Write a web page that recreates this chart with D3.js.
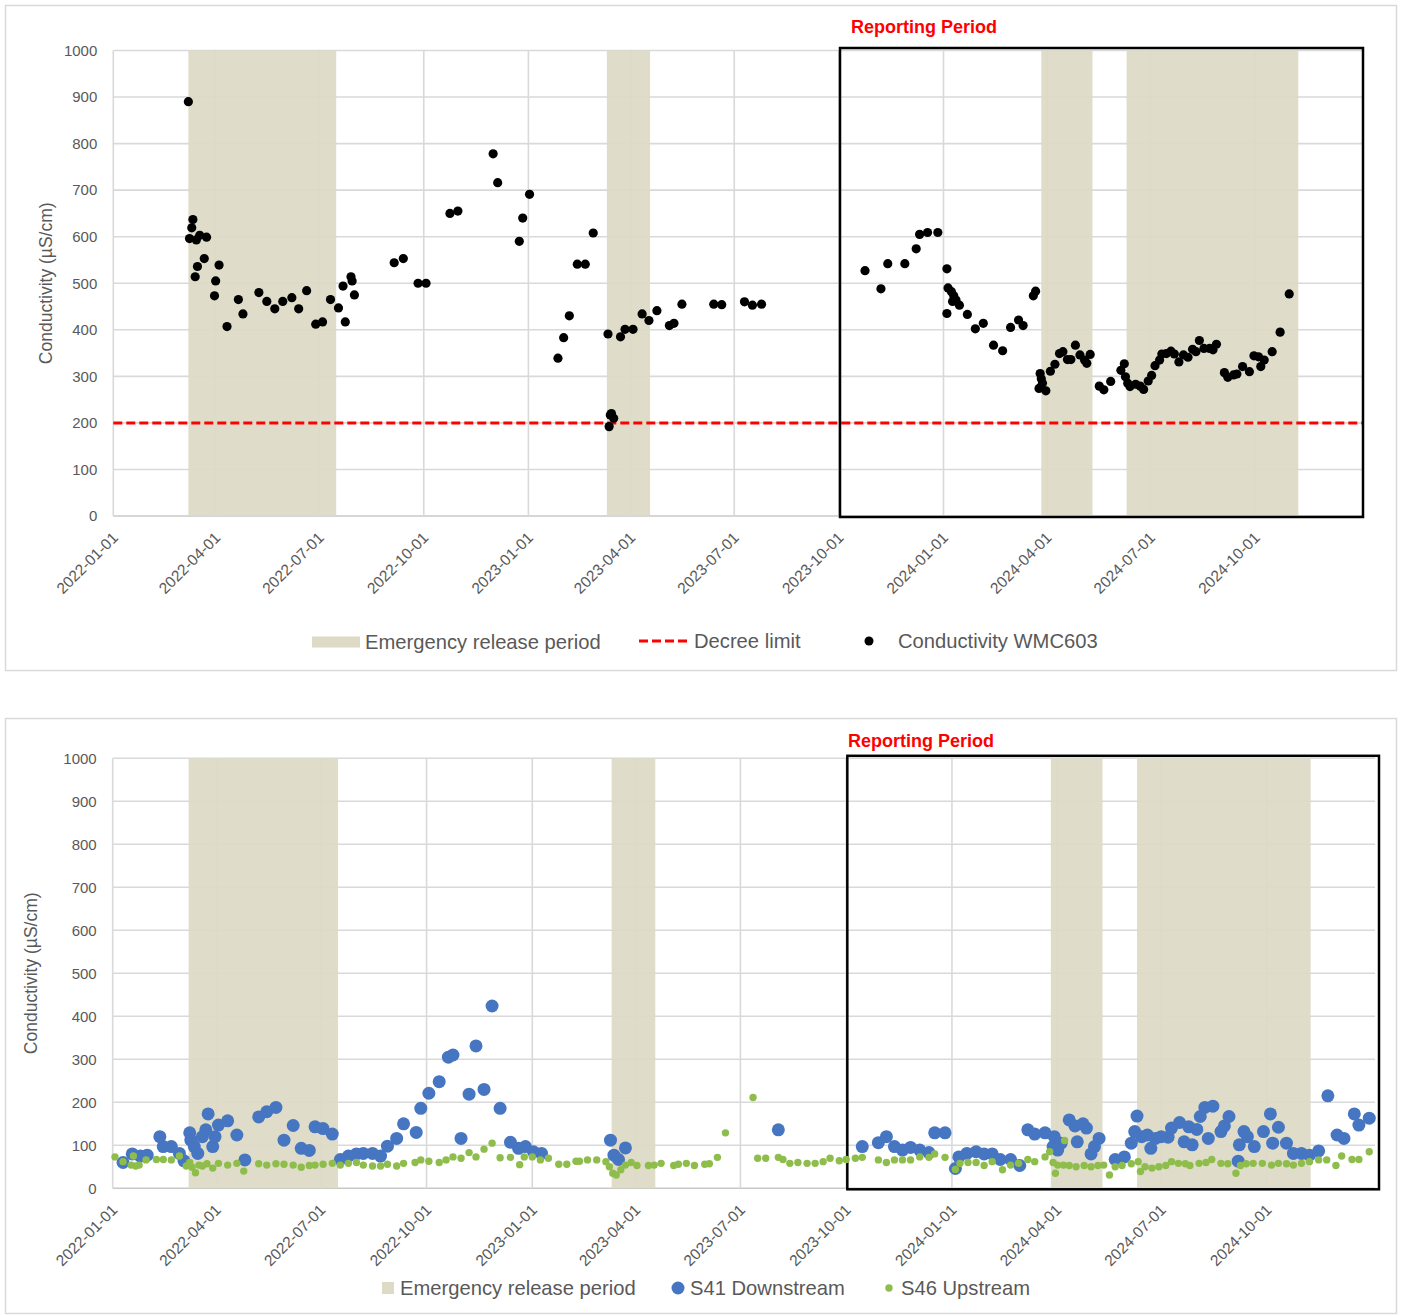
<!DOCTYPE html>
<html><head><meta charset="utf-8">
<script src="https://cdn.jsdelivr.net/npm/d3@7"></script>
<style>
html,body{margin:0;padding:0;background:#fff;}
svg text{font-family:"Liberation Sans",Arial,sans-serif;}
</style></head>
<body>
<svg id="chart" width="1403" height="1315"></svg>
<script>
// ---------------- DATA ----------------
const xTickLabels = ["2022-01-01","2022-04-01","2022-07-01","2022-10-01","2023-01-01","2023-04-01","2023-07-01","2023-10-01","2024-01-01","2024-04-01","2024-07-01","2024-10-01"];
const yTicks = [0,100,200,300,400,500,600,700,800,900,1000];
const xDomain = ["2022-01-01","2025-01-03"];
const emergencyPeriods = [["2022-03-08","2022-07-16"],["2023-03-11","2023-04-18"],["2024-03-27","2024-05-11"],["2024-06-10","2024-11-08"]];
const reportingStart = "2023-10-02";
const decreeLimit = 200;

const wmc603Dates = ["2022-03-08","2022-03-09","2022-03-11","2022-03-12","2022-03-14","2022-03-15","2022-03-16","2022-03-18","2022-03-22","2022-03-24","2022-03-31","2022-04-01","2022-04-04","2022-04-11","2022-04-21","2022-04-25","2022-05-09","2022-05-16","2022-05-23","2022-05-30","2022-06-07","2022-06-13","2022-06-20","2022-06-28","2022-07-04","2022-07-11","2022-07-18","2022-07-22","2022-07-24","2022-07-29","2022-07-30","2022-08-01","2022-09-05","2022-09-13","2022-09-26","2022-10-03","2022-10-24","2022-10-31","2022-12-01","2022-12-05","2022-12-24","2022-12-27","2023-01-02","2023-01-27","2023-02-01","2023-02-06","2023-02-13","2023-02-20","2023-02-27","2023-03-12","2023-03-13","2023-03-14","2023-03-15","2023-03-17","2023-03-23","2023-03-27","2023-04-03","2023-04-11","2023-04-17","2023-04-24","2023-05-05","2023-05-09","2023-05-16","2023-06-13","2023-06-20","2023-07-10","2023-07-17","2023-07-25","2023-10-24","2023-11-07","2023-11-13","2023-11-28","2023-12-08","2023-12-11","2023-12-18","2023-12-27","2024-01-04","2024-01-04","2024-01-05","2024-01-08","2024-01-09","2024-01-10","2024-01-12","2024-01-15","2024-01-22","2024-01-29","2024-02-05","2024-02-14","2024-02-22","2024-02-29","2024-03-07","2024-03-11","2024-03-20","2024-03-22","2024-03-25","2024-03-26","2024-03-27","2024-03-28","2024-03-31","2024-04-04","2024-04-08","2024-04-12","2024-04-15","2024-04-19","2024-04-22","2024-04-26","2024-04-30","2024-05-04","2024-05-06","2024-05-09","2024-05-17","2024-05-21","2024-05-27","2024-06-05","2024-06-08","2024-06-09","2024-06-11","2024-06-13","2024-06-18","2024-06-22","2024-06-25","2024-06-29","2024-07-02","2024-07-05","2024-07-09","2024-07-11","2024-07-15","2024-07-19","2024-07-22","2024-07-26","2024-07-30","2024-08-03","2024-08-07","2024-08-10","2024-08-13","2024-08-17","2024-08-22","2024-08-25","2024-08-28","2024-09-04","2024-09-07","2024-09-12","2024-09-15","2024-09-20","2024-09-26","2024-09-30","2024-10-04","2024-10-06","2024-10-09","2024-10-16","2024-10-23","2024-10-31"];
const wmc603Values = [890,596,619,637,514,593,536,603,553,599,473,505,539,407,465,434,480,461,445,461,469,445,484,412,417,465,447,494,417,514,505,475,544,553,500,500,650,655,778,716,590,640,691,339,383,430,541,541,608,391,192,217,220,210,385,401,401,434,420,441,409,414,455,455,454,460,453,455,527,488,542,542,574,605,609,609,531,435,490,482,461,473,464,453,433,402,414,367,355,405,421,409,473,483,274,306,295,285,269,311,326,349,353,336,336,367,346,335,328,347,279,271,289,313,327,299,285,278,283,279,272,290,302,323,335,348,349,354,348,331,346,341,358,353,377,360,360,357,369,308,298,303,305,321,310,344,342,321,335,353,395,477];

const s41Dates = ["2022-01-10","2022-01-18","2022-01-25","2022-01-31","2022-02-11","2022-02-14","2022-02-21","2022-02-28","2022-03-04","2022-03-09","2022-03-10","2022-03-13","2022-03-16","2022-03-20","2022-03-23","2022-03-25","2022-03-29","2022-03-31","2022-04-03","2022-04-11","2022-04-19","2022-04-26","2022-05-08","2022-05-15","2022-05-23","2022-05-30","2022-06-07","2022-06-14","2022-06-21","2022-06-26","2022-07-03","2022-07-11","2022-07-18","2022-07-25","2022-08-01","2022-08-07","2022-08-15","2022-08-22","2022-08-28","2022-09-05","2022-09-11","2022-09-22","2022-09-26","2022-10-03","2022-10-12","2022-10-20","2022-10-24","2022-10-31","2022-11-07","2022-11-13","2022-11-20","2022-11-27","2022-12-04","2022-12-13","2022-12-20","2022-12-26","2023-01-02","2023-01-09","2023-03-10","2023-03-13","2023-03-17","2023-03-23","2023-08-03","2023-10-15","2023-10-29","2023-11-05","2023-11-12","2023-11-19","2023-11-26","2023-12-04","2023-12-12","2023-12-17","2023-12-26","2024-01-04","2024-01-07","2024-01-14","2024-01-22","2024-01-29","2024-02-05","2024-02-12","2024-02-21","2024-02-29","2024-03-07","2024-03-13","2024-03-22","2024-03-29","2024-03-30","2024-04-02","2024-04-05","2024-04-12","2024-04-17","2024-04-19","2024-04-24","2024-04-27","2024-05-01","2024-05-04","2024-05-08","2024-05-22","2024-05-30","2024-06-05","2024-06-08","2024-06-10","2024-06-14","2024-06-19","2024-06-22","2024-06-26","2024-07-01","2024-07-07","2024-07-10","2024-07-17","2024-07-21","2024-07-25","2024-07-28","2024-08-01","2024-08-04","2024-08-08","2024-08-11","2024-08-15","2024-08-22","2024-08-25","2024-08-29","2024-09-06","2024-09-07","2024-09-11","2024-09-14","2024-09-20","2024-09-28","2024-10-04","2024-10-06","2024-10-11","2024-10-18","2024-10-24","2024-10-31","2024-11-07","2024-11-15","2024-11-23","2024-12-01","2024-12-07","2024-12-16","2024-12-20","2024-12-29"];
const s41Values = [60,80,75,77,120,97,97,81,64,129,112,97,81,120,136,173,97,120,147,157,124,66,166,178,188,112,146,93,88,143,139,126,67,75,80,81,81,75,98,116,150,130,186,221,248,305,310,116,219,331,230,424,186,107,93,97,85,81,112,77,67,94,136,97,106,120,97,89,95,89,83,129,129,46,73,81,85,80,80,67,67,53,136,126,129,97,120,89,105,159,145,108,150,140,80,97,116,67,73,105,132,168,120,124,93,116,120,119,140,153,108,143,101,137,167,188,116,191,132,145,167,63,101,132,120,97,132,173,105,142,105,81,81,77,87,215,124,116,173,147,163];

const s46Dates = ["2022-01-03","2022-01-10","2022-01-17","2022-01-19","2022-01-21","2022-01-24","2022-01-30","2022-02-08","2022-02-14","2022-02-21","2022-02-28","2022-03-06","2022-03-09","2022-03-11","2022-03-14","2022-03-17","2022-03-20","2022-03-24","2022-03-29","2022-04-03","2022-04-11","2022-04-19","2022-04-25","2022-05-08","2022-05-15","2022-05-23","2022-05-30","2022-06-07","2022-06-14","2022-06-21","2022-06-26","2022-07-03","2022-07-11","2022-07-18","2022-07-25","2022-08-01","2022-08-07","2022-08-15","2022-08-22","2022-08-28","2022-09-05","2022-09-11","2022-09-21","2022-09-26","2022-10-03","2022-10-12","2022-10-18","2022-10-24","2022-10-31","2022-11-07","2022-11-13","2022-11-20","2022-11-27","2022-12-04","2022-12-13","2022-12-21","2022-12-25","2023-01-01","2023-01-08","2023-01-15","2023-01-24","2023-01-31","2023-02-08","2023-02-11","2023-02-18","2023-02-26","2023-03-06","2023-03-09","2023-03-12","2023-03-15","2023-03-19","2023-03-23","2023-03-28","2023-04-02","2023-04-12","2023-04-17","2023-04-23","2023-05-04","2023-05-08","2023-05-15","2023-05-22","2023-05-31","2023-06-04","2023-06-11","2023-06-18","2023-07-12","2023-07-16","2023-07-23","2023-08-03","2023-08-07","2023-08-13","2023-08-20","2023-08-28","2023-09-04","2023-09-11","2023-09-17","2023-09-25","2023-10-01","2023-10-09","2023-10-15","2023-10-29","2023-11-05","2023-11-12","2023-11-19","2023-11-26","2023-12-04","2023-12-12","2023-12-17","2023-12-26","2024-01-04","2024-01-08","2024-01-15","2024-01-22","2024-01-29","2024-02-05","2024-02-14","2024-02-21","2024-02-28","2024-03-07","2024-03-13","2024-03-22","2024-03-26","2024-03-29","2024-03-31","2024-04-02","2024-04-07","2024-04-08","2024-04-12","2024-04-18","2024-04-25","2024-05-01","2024-05-07","2024-05-12","2024-05-17","2024-05-22","2024-05-28","2024-06-05","2024-06-11","2024-06-13","2024-06-17","2024-06-23","2024-06-29","2024-07-05","2024-07-10","2024-07-16","2024-07-22","2024-07-26","2024-08-03","2024-08-09","2024-08-14","2024-08-22","2024-08-28","2024-09-04","2024-09-08","2024-09-13","2024-09-19","2024-09-27","2024-10-05","2024-10-11","2024-10-18","2024-10-24","2024-10-31","2024-11-07","2024-11-15","2024-11-22","2024-11-30","2024-12-05","2024-12-14","2024-12-20","2024-12-29"];
const s46Values = [73,62,54,75,52,54,66,67,67,66,75,52,60,49,36,54,52,57,47,58,54,58,40,57,54,57,56,54,49,53,54,56,58,54,58,60,54,52,52,56,52,58,60,66,63,60,66,73,70,83,73,91,105,71,72,55,73,73,66,70,56,56,63,63,66,66,62,50,35,31,43,54,60,53,53,54,58,53,56,58,53,56,57,72,129,211,70,70,72,67,58,60,58,58,62,70,64,67,70,72,66,60,66,66,66,73,72,80,72,44,58,60,60,53,62,43,54,58,67,62,73,85,60,35,54,54,111,53,50,53,50,53,54,31,50,53,57,62,39,50,47,50,53,62,58,57,53,58,60,67,58,57,35,53,57,58,58,54,58,57,54,58,62,66,66,53,75,67,67,85];

// ---------------- STYLES ----------------
const parse = d3.utcParse("%Y-%m-%d");
const svg = d3.select("#chart");
svg.append("rect").attr("width",1403).attr("height",1315).attr("fill","#fff");

const GRID = "#d9d9d9", TXT = "#595959", BAND = "#dddac6";

function panel(cfg){
  const g = svg.append("g");
  // outer frame
  g.append("rect").attr("x",cfg.frame[0]).attr("y",cfg.frame[1]).attr("width",cfg.frame[2]).attr("height",cfg.frame[3])
    .attr("fill","#fff").attr("stroke","#d9d9d9").attr("stroke-width",1.5);
  const x = d3.scaleUtc().domain(xDomain.map(parse)).range([cfg.left,cfg.right]);
  const y = d3.scaleLinear().domain([0,1000]).range([cfg.bottom,cfg.top]);
  // horizontal gridlines
  g.append("g").selectAll("line").data(yTicks).join("line")
    .attr("x1",cfg.left).attr("x2",cfg.right).attr("y1",d=>y(d)).attr("y2",d=>y(d))
    .attr("stroke",d=>d===0?"#c8c8c8":GRID).attr("stroke-width",1.6);
  // vertical gridlines
  g.append("g").selectAll("line").data(xTickLabels).join("line")
    .attr("x1",d=>x(parse(d))).attr("x2",d=>x(parse(d))).attr("y1",cfg.top).attr("y2",cfg.bottom)
    .attr("stroke",GRID).attr("stroke-width",1.6);
  // emergency bands
  g.append("g").selectAll("rect").data(emergencyPeriods).join("rect")
    .attr("x",d=>x(parse(d[0]))).attr("width",d=>x(parse(d[1]))-x(parse(d[0])))
    .attr("y",cfg.top).attr("height",cfg.bottom-cfg.top)
    .attr("fill",BAND).attr("opacity",0.93);
  // decree limit
  if(cfg.decree){
    g.append("line").attr("x1",cfg.left).attr("x2",cfg.right).attr("y1",y(decreeLimit)).attr("y2",y(decreeLimit))
      .attr("stroke","#ff0000").attr("stroke-width",3).attr("stroke-dasharray","9,4");
  }
  // reporting period box
  const bx = x(parse(reportingStart));
  g.append("rect").attr("x",bx).attr("y",cfg.top-2.5).attr("width",cfg.right+cfg.boxPad-bx).attr("height",cfg.bottom-cfg.top+3.5)
    .attr("fill","none").attr("stroke","#000").attr("stroke-width",2.5);
  g.append("text").attr("x",cfg.rpX).attr("y",cfg.rpY).attr("text-anchor","middle")
    .attr("fill","#ff0000").attr("font-weight","bold").attr("font-size",18)
    .style("font-family","'Liberation Sans Narrow','Liberation Sans',sans-serif").text("Reporting Period");
  // series
  cfg.series.forEach(s=>{
    g.append("g").selectAll("circle").data(s.dates.map((d,i)=>({d:parse(d),v:s.values[i]}))).join("circle")
      .attr("cx",d=>x(d.d)).attr("cy",d=>y(d.v)).attr("r",s.r).attr("fill",s.color);
  });
  // y tick labels
  g.append("g").selectAll("text").data(yTicks).join("text")
    .attr("x",cfg.left-16).attr("y",d=>y(d)).attr("dy","0.35em").attr("text-anchor","end")
    .attr("fill",TXT).attr("font-size",15).text(d=>d);
  // x tick labels
  g.append("g").selectAll("text").data(xTickLabels).join("text")
    .attr("transform",d=>`translate(${x(parse(d))-2},${cfg.bottom+15}) rotate(-45)`)
    .attr("text-anchor","end").attr("dy","0.7em").attr("fill",TXT).attr("font-size",15.5).text(d=>d);
  // y title
  g.append("text").attr("transform",`translate(${cfg.ytX},${(cfg.top+cfg.bottom)/2}) rotate(-90)`)
    .attr("text-anchor","middle").attr("fill",TXT).attr("font-size",17.5).text("Conductivity (µS/cm)");
  // legend
  const L = g.append("g");
  cfg.legend.forEach(it=>{
    if(it.type==="rect") L.append("rect").attr("x",it.x).attr("y",it.y-it.h/2).attr("width",it.w).attr("height",it.h).attr("fill",BAND);
    if(it.type==="dash") L.append("line").attr("x1",it.x).attr("x2",it.x+it.w).attr("y1",it.y).attr("y2",it.y)
      .attr("stroke","#ff0000").attr("stroke-width",3).attr("stroke-dasharray","9,4");
    if(it.type==="dot") L.append("circle").attr("cx",it.x).attr("cy",it.y).attr("r",it.r).attr("fill",it.color);
    L.append("text").attr("x",it.tx).attr("y",it.y).attr("dy","0.35em").attr("fill",TXT).attr("font-size",20.2).text(it.label);
  });
}

panel({
  frame:[5.5,5.5,1391,665], left:113.3, right:1362, top:50.5, bottom:516, boxPad:1,
  decree:true, rpX:924, rpY:33, ytX:52,
  series:[{dates:wmc603Dates, values:wmc603Values, color:"#000", r:4.6}],
  legend:[
    {type:"rect", x:312, y:642, w:48, h:11, tx:365, label:"Emergency release period"},
    {type:"dash", x:639, y:641, w:52, tx:694, label:"Decree limit"},
    {type:"dot", x:869, y:641, r:4.5, color:"#000", tx:898, label:"Conductivity WMC603"}
  ]
});
panel({
  frame:[5.5,718.5,1391,595], left:112.7, right:1375, top:758.3, bottom:1188.3, boxPad:4,
  decree:false, rpX:921, rpY:747, ytX:37,
  series:[{dates:s41Dates, values:s41Values, color:"#4676c2", r:6.5},
          {dates:s46Dates, values:s46Values, color:"#8fbd4c", r:3.7}],
  legend:[
    {type:"rect", x:382, y:1288, w:12, h:12, tx:400, label:"Emergency release period"},
    {type:"dot", x:678, y:1288, r:6.5, color:"#4676c2", tx:690, label:"S41 Downstream"},
    {type:"dot", x:889, y:1288, r:3.7, color:"#8fbd4c", tx:901, label:"S46 Upstream"}
  ]
});
</script>
</body></html>
